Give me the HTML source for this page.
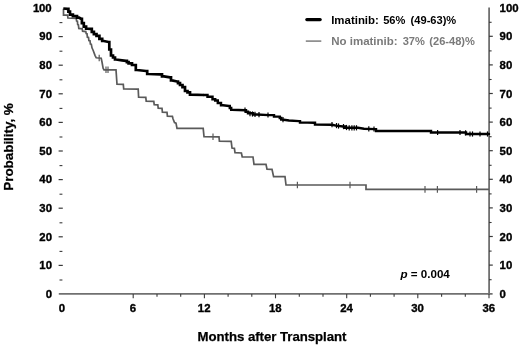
<!DOCTYPE html>
<html><head><meta charset="utf-8"><title>Survival after transplant</title>
<style>
html,body{margin:0;padding:0;background:#fff;}
svg{display:block;filter:blur(0.4px);}
text{font-family:"Liberation Sans",Arial,sans-serif;font-weight:bold;}
.tk{font-size:11.4px;fill:#000;stroke:#000;stroke-width:0.35px;}
.lg{font-size:11.1px;}
.pv{font-size:11.6px;fill:#000;}
.ti{font-size:13.5px;fill:#000;letter-spacing:-0.06px;stroke:#000;stroke-width:0.25px;}
.tx{font-size:13.2px;fill:#000;letter-spacing:-0.03px;stroke:#000;stroke-width:0.25px;}
</style></head>
<body>
<svg width="520" height="345" viewBox="0 0 520 345">
<rect width="520" height="345" fill="#fff"/>
<line x1="58.8" y1="293.9" x2="492.6" y2="293.9" stroke="#707070" stroke-width="1.8"/>
<line x1="489.1" y1="7.4" x2="489.1" y2="294.6" stroke="#707070" stroke-width="1.8"/>
<line x1="59.5" y1="280.0" x2="62.4" y2="280.0" stroke="#3a3a3a" stroke-width="1.1"/>
<line x1="58.6" y1="265.4" x2="62.8" y2="265.4" stroke="#3a3a3a" stroke-width="1.2"/>
<line x1="59.5" y1="251.4" x2="62.4" y2="251.4" stroke="#3a3a3a" stroke-width="1.1"/>
<line x1="58.6" y1="236.8" x2="62.8" y2="236.8" stroke="#3a3a3a" stroke-width="1.2"/>
<line x1="59.5" y1="222.8" x2="62.4" y2="222.8" stroke="#3a3a3a" stroke-width="1.1"/>
<line x1="58.6" y1="208.2" x2="62.8" y2="208.2" stroke="#3a3a3a" stroke-width="1.2"/>
<line x1="59.5" y1="194.2" x2="62.4" y2="194.2" stroke="#3a3a3a" stroke-width="1.1"/>
<line x1="58.6" y1="179.6" x2="62.8" y2="179.6" stroke="#3a3a3a" stroke-width="1.2"/>
<line x1="59.5" y1="165.6" x2="62.4" y2="165.6" stroke="#3a3a3a" stroke-width="1.1"/>
<line x1="58.6" y1="151.0" x2="62.8" y2="151.0" stroke="#3a3a3a" stroke-width="1.2"/>
<line x1="59.5" y1="137.0" x2="62.4" y2="137.0" stroke="#3a3a3a" stroke-width="1.1"/>
<line x1="58.6" y1="122.4" x2="62.8" y2="122.4" stroke="#3a3a3a" stroke-width="1.2"/>
<line x1="59.5" y1="108.4" x2="62.4" y2="108.4" stroke="#3a3a3a" stroke-width="1.1"/>
<line x1="58.6" y1="93.8" x2="62.8" y2="93.8" stroke="#3a3a3a" stroke-width="1.2"/>
<line x1="59.5" y1="79.8" x2="62.4" y2="79.8" stroke="#3a3a3a" stroke-width="1.1"/>
<line x1="58.6" y1="65.2" x2="62.8" y2="65.2" stroke="#3a3a3a" stroke-width="1.2"/>
<line x1="59.5" y1="51.2" x2="62.4" y2="51.2" stroke="#3a3a3a" stroke-width="1.1"/>
<line x1="58.6" y1="36.6" x2="62.8" y2="36.6" stroke="#3a3a3a" stroke-width="1.2"/>
<line x1="59.5" y1="22.6" x2="62.4" y2="22.6" stroke="#3a3a3a" stroke-width="1.1"/>
<line x1="489" y1="279.7" x2="491.6" y2="279.7" stroke="#3a3a3a" stroke-width="1.1"/>
<line x1="489" y1="265.1" x2="492.8" y2="265.1" stroke="#3a3a3a" stroke-width="1.2"/>
<line x1="489" y1="251.1" x2="491.6" y2="251.1" stroke="#3a3a3a" stroke-width="1.1"/>
<line x1="489" y1="236.5" x2="492.8" y2="236.5" stroke="#3a3a3a" stroke-width="1.2"/>
<line x1="489" y1="222.5" x2="491.6" y2="222.5" stroke="#3a3a3a" stroke-width="1.1"/>
<line x1="489" y1="207.9" x2="492.8" y2="207.9" stroke="#3a3a3a" stroke-width="1.2"/>
<line x1="489" y1="193.9" x2="491.6" y2="193.9" stroke="#3a3a3a" stroke-width="1.1"/>
<line x1="489" y1="179.3" x2="492.8" y2="179.3" stroke="#3a3a3a" stroke-width="1.2"/>
<line x1="489" y1="165.3" x2="491.6" y2="165.3" stroke="#3a3a3a" stroke-width="1.1"/>
<line x1="489" y1="150.7" x2="492.8" y2="150.7" stroke="#3a3a3a" stroke-width="1.2"/>
<line x1="489" y1="136.7" x2="491.6" y2="136.7" stroke="#3a3a3a" stroke-width="1.1"/>
<line x1="489" y1="122.1" x2="492.8" y2="122.1" stroke="#3a3a3a" stroke-width="1.2"/>
<line x1="489" y1="108.1" x2="491.6" y2="108.1" stroke="#3a3a3a" stroke-width="1.1"/>
<line x1="489" y1="93.5" x2="492.8" y2="93.5" stroke="#3a3a3a" stroke-width="1.2"/>
<line x1="489" y1="79.5" x2="491.6" y2="79.5" stroke="#3a3a3a" stroke-width="1.1"/>
<line x1="489" y1="64.9" x2="492.8" y2="64.9" stroke="#3a3a3a" stroke-width="1.2"/>
<line x1="489" y1="50.9" x2="491.6" y2="50.9" stroke="#3a3a3a" stroke-width="1.1"/>
<line x1="489" y1="36.3" x2="492.8" y2="36.3" stroke="#3a3a3a" stroke-width="1.2"/>
<line x1="489" y1="22.3" x2="491.6" y2="22.3" stroke="#3a3a3a" stroke-width="1.1"/>
<line x1="133.2" y1="294" x2="133.2" y2="298.3" stroke="#3a3a3a" stroke-width="1.1"/>
<line x1="157.0" y1="294" x2="157.0" y2="296.8" stroke="#3a3a3a" stroke-width="1.1"/>
<line x1="180.7" y1="294" x2="180.7" y2="296.8" stroke="#3a3a3a" stroke-width="1.1"/>
<line x1="204.4" y1="294" x2="204.4" y2="298.3" stroke="#3a3a3a" stroke-width="1.1"/>
<line x1="228.1" y1="294" x2="228.1" y2="296.8" stroke="#3a3a3a" stroke-width="1.1"/>
<line x1="251.8" y1="294" x2="251.8" y2="296.8" stroke="#3a3a3a" stroke-width="1.1"/>
<line x1="275.5" y1="294" x2="275.5" y2="298.3" stroke="#3a3a3a" stroke-width="1.1"/>
<line x1="299.3" y1="294" x2="299.3" y2="296.8" stroke="#3a3a3a" stroke-width="1.1"/>
<line x1="323.0" y1="294" x2="323.0" y2="296.8" stroke="#3a3a3a" stroke-width="1.1"/>
<line x1="346.7" y1="294" x2="346.7" y2="298.3" stroke="#3a3a3a" stroke-width="1.1"/>
<line x1="370.4" y1="294" x2="370.4" y2="296.8" stroke="#3a3a3a" stroke-width="1.1"/>
<line x1="394.1" y1="294" x2="394.1" y2="296.8" stroke="#3a3a3a" stroke-width="1.1"/>
<line x1="417.8" y1="294" x2="417.8" y2="298.3" stroke="#3a3a3a" stroke-width="1.1"/>
<line x1="441.6" y1="294" x2="441.6" y2="296.8" stroke="#3a3a3a" stroke-width="1.1"/>
<line x1="465.3" y1="294" x2="465.3" y2="296.8" stroke="#3a3a3a" stroke-width="1.1"/>
<line x1="489.0" y1="294" x2="489.0" y2="298.3" stroke="#3a3a3a" stroke-width="1.1"/>
<path d="M63.5,8.8 L63.5,15.2 L67.6,15.2 L67.9,18.0 L76.2,18.4 L76.6,21.0 L77.4,21.2 L77.7,24.6 L78.4,24.8 L78.8,28.4 L82.2,28.8 L82.6,31.2 L85.8,31.6 L86.2,33.6 L87.0,33.8 L87.4,37.2 L88.5,37.4 L88.9,40.6 L90.0,40.8 L90.4,44.0 L91.3,44.2 L92.0,47.8 L93.2,50.5 L95.0,55.3 L96.2,57.8 L101.2,58.2 L102.0,62.0 L103.1,68.2 L104.0,69.8 L116.0,69.8 L117.0,84.2 L123.3,84.4 L123.7,88.8 L138.2,89.2 L138.6,97.2 L145.8,97.4 L146.2,101.2 L153.8,101.4 L154.2,104.6 L157.8,104.9 L158.2,108.2 L162.0,108.4 L162.4,112.2 L167.0,112.4 L167.4,116.2 L172.4,116.4 L173.0,118.8 L174.5,122.5 L176.0,123.2 L177.0,128.4 L203.2,128.4 L204.0,136.6 L219.0,136.8 L219.4,141.2 L231.2,141.4 L232.0,148.0 L234.4,148.3 L235.0,152.7 L241.4,153.0 L242.2,156.8 L253.0,157.0 L254.0,164.4 L266.0,164.4 L267.0,169.2 L272.0,169.4 L273.6,176.7 L285.0,176.7 L286.0,185.0 L366.0,185.0 L366.0,189.4 L489.0,189.4" fill="none" stroke="#5a5a5a" stroke-width="1.7" stroke-linejoin="miter"/>
<line x1="99.2" y1="54.7" x2="99.2" y2="61.3" stroke="#5a5a5a" stroke-width="1.2"/>
<line x1="106" y1="66.5" x2="106" y2="73.1" stroke="#5a5a5a" stroke-width="1.2"/>
<line x1="108" y1="66.5" x2="108" y2="73.1" stroke="#5a5a5a" stroke-width="1.2"/>
<line x1="213" y1="133.39999999999998" x2="213" y2="140.0" stroke="#5a5a5a" stroke-width="1.2"/>
<line x1="297.4" y1="181.7" x2="297.4" y2="188.3" stroke="#5a5a5a" stroke-width="1.2"/>
<line x1="350" y1="181.7" x2="350" y2="188.3" stroke="#5a5a5a" stroke-width="1.2"/>
<line x1="425" y1="186.1" x2="425" y2="192.70000000000002" stroke="#5a5a5a" stroke-width="1.2"/>
<line x1="437.4" y1="186.1" x2="437.4" y2="192.70000000000002" stroke="#5a5a5a" stroke-width="1.2"/>
<line x1="476.6" y1="186.1" x2="476.6" y2="192.70000000000002" stroke="#5a5a5a" stroke-width="1.2"/>
<path d="M63.3,8.5 L67.6,8.8 L68.4,8.8 L68.4,11.7 L69.2,11.7 L70.0,11.7 L70.0,14.6 L70.8,14.6 L72.9,14.6 L72.9,16.2 L75.0,16.2 L77.0,16.2 L77.0,17.7 L79.1,17.7 L81.2,18.8 L81.9,18.8 L81.9,23.1 L82.6,23.1 L83.8,23.1 L83.8,26.6 L84.9,26.6 L86.1,26.6 L86.1,28.7 L87.2,28.7 L90.7,28.9 L91.8,28.9 L91.8,31.8 L93.0,31.8 L93.9,31.8 L93.9,34.1 L94.8,34.1 L96.5,34.1 L96.5,35.9 L98.2,35.9 L99.4,35.9 L99.4,38.8 L100.6,38.8 L102.2,38.8 L102.2,41.0 L103.8,41.0 L108.6,42.0 L109.3,42.0 L109.3,49.5 L110.0,49.5 L111.0,49.5 L111.0,55.5 L112.0,55.5 L113.0,55.5 L113.0,57.5 L114.0,57.5 L115.0,57.5 L115.0,59.5 L116.0,59.5 L122.0,60.3 L126.0,60.8 L126.9,60.8 L126.9,62.1 L127.8,62.1 L128.6,62.1 L128.6,63.4 L129.5,63.4 L132.0,63.4 L132.0,65.0 L134.5,65.0 L135.8,65.0 L135.8,70.0 L137.0,70.0 L146.0,71.0 L147.2,71.0 L147.2,74.0 L148.5,74.0 L160.0,74.4 L162.0,74.4 L162.0,76.4 L164.0,76.4 L170.0,77.4 L171.0,77.4 L171.0,80.4 L172.0,80.4 L177.0,81.5 L178.0,81.5 L178.0,83.2 L179.0,83.2 L180.0,83.2 L180.0,85.0 L181.0,85.0 L182.5,85.0 L182.5,87.2 L184.0,87.2 L185.0,87.2 L185.0,91.0 L186.0,91.0 L187.5,91.0 L187.5,92.3 L189.0,92.3 L190.0,92.3 L190.0,94.6 L191.0,94.6 L204.0,95.0" fill="none" stroke="#000" stroke-width="2.7" stroke-linejoin="miter" stroke-linecap="butt"/>
<path d="M204.0,95.0 L207.5,95.0 L207.5,96.8 L211.0,96.8 L212.5,96.8 L212.5,99.3 L214.0,99.3 L215.2,99.3 L215.2,100.5 L216.5,100.5 L217.8,100.5 L217.8,103.0 L219.0,103.0 L221.0,103.0 L221.0,105.3 L223.0,105.3 L229.0,106.0 L229.8,106.0 L229.8,107.9 L230.5,107.9 L231.2,107.9 L231.2,109.8 L232.0,109.8 L245.0,110.3 L246.0,110.3 L246.0,111.8 L247.0,111.8 L248.0,111.8 L248.0,113.3 L249.0,113.3 L253.0,113.3 L253.0,114.5 L257.0,114.5 L269.0,115.1 L274.0,115.1 L274.0,116.6 L279.0,116.6 L279.8,116.6 L279.8,118.0 L280.5,118.0 L281.2,118.0 L281.2,119.5 L282.0,119.5 L289.0,120.5 L299.0,121.1 L300.0,121.1 L300.0,122.4 L301.0,122.4 L314.0,122.8 L315.0,122.8 L315.0,124.5 L316.0,124.5 L332.0,124.7 L336.0,125.6 L343.0,126.5 L345.0,126.5 L345.0,127.7 L347.0,127.7 L358.0,127.8 L364.0,128.7 L375.0,129.1 L376.0,129.1 L376.0,131.0 L377.0,131.0 L430.0,131.0 L431.0,131.0 L431.0,132.5 L432.0,132.5 L465.0,132.5 L466.0,132.5 L466.0,134.0 L467.0,134.0 L489.0,134.0" fill="none" stroke="#000" stroke-width="2.45" stroke-linejoin="miter" stroke-linecap="round"/>
<line x1="245" y1="107.6" x2="245" y2="112.8" stroke="#000" stroke-width="1.2"/>
<line x1="250" y1="111.0" x2="250" y2="116.2" stroke="#000" stroke-width="1.2"/>
<line x1="252.5" y1="111.4" x2="252.5" y2="116.6" stroke="#000" stroke-width="1.2"/>
<line x1="255" y1="111.7" x2="255" y2="116.9" stroke="#000" stroke-width="1.2"/>
<line x1="259" y1="112.1" x2="259" y2="117.3" stroke="#000" stroke-width="1.2"/>
<line x1="268" y1="112.4" x2="268" y2="117.6" stroke="#000" stroke-width="1.2"/>
<line x1="283" y1="117.1" x2="283" y2="122.3" stroke="#000" stroke-width="1.2"/>
<line x1="332" y1="122.0" x2="332" y2="127.2" stroke="#000" stroke-width="1.2"/>
<line x1="336.5" y1="123.0" x2="336.5" y2="128.2" stroke="#000" stroke-width="1.2"/>
<line x1="338.5" y1="123.4" x2="338.5" y2="128.6" stroke="#000" stroke-width="1.2"/>
<line x1="343.5" y1="124.0" x2="343.5" y2="129.2" stroke="#000" stroke-width="1.2"/>
<line x1="346.5" y1="124.9" x2="346.5" y2="130.1" stroke="#000" stroke-width="1.2"/>
<line x1="349.2" y1="125.2" x2="349.2" y2="130.4" stroke="#000" stroke-width="1.2"/>
<line x1="351.9" y1="125.2" x2="351.9" y2="130.4" stroke="#000" stroke-width="1.2"/>
<line x1="354.2" y1="125.2" x2="354.2" y2="130.4" stroke="#000" stroke-width="1.2"/>
<line x1="356.5" y1="125.2" x2="356.5" y2="130.4" stroke="#000" stroke-width="1.2"/>
<line x1="368.8" y1="126.2" x2="368.8" y2="131.4" stroke="#000" stroke-width="1.2"/>
<line x1="374" y1="126.4" x2="374" y2="131.6" stroke="#000" stroke-width="1.2"/>
<line x1="437.6" y1="129.9" x2="437.6" y2="135.1" stroke="#000" stroke-width="1.2"/>
<line x1="460" y1="129.9" x2="460" y2="135.1" stroke="#000" stroke-width="1.2"/>
<line x1="465.6" y1="130.2" x2="465.6" y2="135.4" stroke="#000" stroke-width="1.2"/>
<line x1="470" y1="131.4" x2="470" y2="136.6" stroke="#000" stroke-width="1.2"/>
<line x1="472.5" y1="131.4" x2="472.5" y2="136.6" stroke="#000" stroke-width="1.2"/>
<line x1="480" y1="131.4" x2="480" y2="136.6" stroke="#000" stroke-width="1.2"/>
<line x1="487.5" y1="131.4" x2="487.5" y2="136.6" stroke="#000" stroke-width="1.2"/>
<line x1="306.8" y1="19.6" x2="320.2" y2="19.6" stroke="#000" stroke-width="3.1" stroke-linecap="round"/>
<line x1="305.8" y1="41.1" x2="321.3" y2="41.1" stroke="#7c7c7c" stroke-width="1.5"/>
<text y="23.5" class="lg" fill="#000"><tspan x="331.2" font-size="11.45">Imatinib: </tspan><tspan x="383.2">56% </tspan><tspan x="410.6">(49-63)%</tspan></text>
<text y="45.3" class="lg" fill="#7a7a7a"><tspan x="331.2" font-size="11.5">No imatinib: </tspan><tspan x="402.7">37% </tspan><tspan x="429.3">(26-48)%</tspan></text>
<text x="400.5" y="278" class="pv"><tspan font-style="italic">p</tspan> = 0.004</text>
<text x="52" y="297.8" class="tk" text-anchor="end">0</text>
<text x="499.6" y="297.8" class="tk">0</text>
<text x="52" y="269.2" class="tk" text-anchor="end">10</text>
<text x="499.6" y="269.2" class="tk">10</text>
<text x="52" y="240.6" class="tk" text-anchor="end">20</text>
<text x="499.6" y="240.6" class="tk">20</text>
<text x="52" y="212.0" class="tk" text-anchor="end">30</text>
<text x="499.6" y="212.0" class="tk">30</text>
<text x="52" y="183.4" class="tk" text-anchor="end">40</text>
<text x="499.6" y="183.4" class="tk">40</text>
<text x="52" y="154.8" class="tk" text-anchor="end">50</text>
<text x="499.6" y="154.8" class="tk">50</text>
<text x="52" y="126.2" class="tk" text-anchor="end">60</text>
<text x="499.6" y="126.2" class="tk">60</text>
<text x="52" y="97.6" class="tk" text-anchor="end">70</text>
<text x="499.6" y="97.6" class="tk">70</text>
<text x="52" y="69.0" class="tk" text-anchor="end">80</text>
<text x="499.6" y="69.0" class="tk">80</text>
<text x="52" y="40.4" class="tk" text-anchor="end">90</text>
<text x="499.6" y="40.4" class="tk">90</text>
<text x="51.2" y="11.8" class="tk" text-anchor="end" letter-spacing="-0.3">100</text>
<text x="499.6" y="11.8" class="tk">100</text>
<text x="61.9" y="312.3" class="tk" text-anchor="middle">0</text>
<text x="133.0" y="312.3" class="tk" text-anchor="middle">6</text>
<text x="204.2" y="312.3" class="tk" text-anchor="middle">12</text>
<text x="275.3" y="312.3" class="tk" text-anchor="middle">18</text>
<text x="346.5" y="312.3" class="tk" text-anchor="middle">24</text>
<text x="417.6" y="312.3" class="tk" text-anchor="middle">30</text>
<text x="488.8" y="312.3" class="tk" text-anchor="middle">36</text>
<text x="272" y="340.5" class="tx" text-anchor="middle">Months after Transplant</text>
<text transform="translate(12.8,147) rotate(-90)" class="ti" text-anchor="middle">Probability, %</text>
</svg>
</body></html>
